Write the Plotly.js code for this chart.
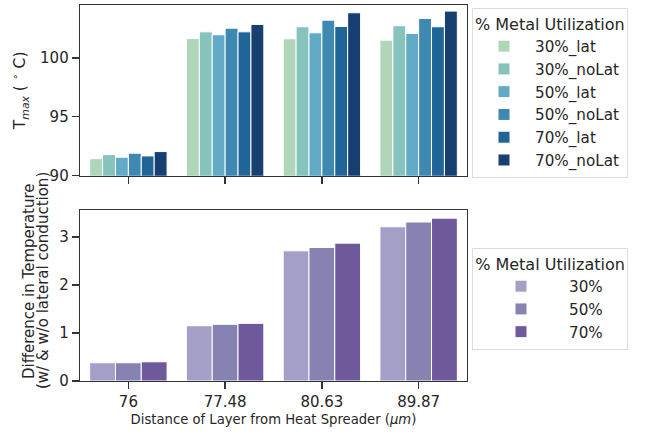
<!DOCTYPE html>
<html>
<head>
<meta charset="utf-8">
<script src="https://cdn.plot.ly/plotly-3.0.1.min.js"></script>
<style>html,body{margin:0;padding:0;background:#fff;}#chart{width:646px;height:433px;}</style>
</head>
<body>
<div id="chart"></div>
<script>
// ---- data ----
const categories = ['76', '77.48', '80.63', '89.87'];

const topNames = ['30%_lat', '30%_noLat', '50%_lat', '50%_noLat', '70%_lat', '70%_noLat'];
const tmax30lat   = [91.45, 101.65, 101.63, 101.51];
const tmax30noLat = [91.79, 102.22, 102.65, 102.74];
const tmax50lat   = [91.57, 101.97, 102.14, 102.08];
const tmax50noLat = [91.91, 102.53, 103.21, 103.36];
const tmax70lat   = [91.68, 102.22, 102.68, 102.65];
const tmax70noLat = [92.05, 102.85, 103.84, 103.98];
const topValues = [tmax30lat, tmax30noLat, tmax50lat, tmax50noLat, tmax70lat, tmax70noLat];
const topColors = ['#afd6b9', '#86c3bc', '#62aac6', '#3e89b2', '#1f6598', '#183f71'];

const botNames = ['30%', '50%', '70%'];
const diff30 = [0.38, 1.15, 2.71, 3.21];
const diff50 = [0.38, 1.18, 2.78, 3.31];
const diff70 = [0.40, 1.20, 2.87, 3.39];
const botValues = [diff30, diff50, diff70];
const botColors = ['#a39fc6', '#8683b2', '#6e5a9a'];

const botYTitle = ['Difference in Temperature', '(w/ & w/o lateral conduction)'];

const FONT = 'DejaVu Sans, sans-serif';
const TXT = '#262626';

const traces = [];
topNames.forEach((n, i) => {
  traces.push({
    type: 'bar', x: categories, y: topValues[i], name: n,
    xaxis: 'x', yaxis: 'y', legend: 'legend',
    marker: {color: topColors[i], line: {color: '#ffffff', width: 1}},
    hoverinfo: 'skip'
  });
});
botNames.forEach((n, i) => {
  traces.push({
    type: 'bar', x: categories, y: botValues[i], name: n,
    xaxis: 'x2', yaxis: 'y2', legend: 'legend2',
    marker: {color: botColors[i], line: {color: '#ffffff', width: 1}},
    hoverinfo: 'skip'
  });
});

const W = 646, H = 433;
const xd = [80 / W, 467 / W];
const axCommon = {
  showline: true, linecolor: '#333333', linewidth: 1.3, mirror: true,
  ticks: 'outside', ticklen: 7, tickwidth: 1.3, tickcolor: '#333333',
  showgrid: false, zeroline: false, automargin: false,
  tickfont: {family: FONT, size: 15, color: TXT}
};

const layout = {
  width: W, height: H,
  margin: {l: 0, r: 0, t: 0, b: 0},
  paper_bgcolor: '#ffffff', plot_bgcolor: '#ffffff',
  font: {family: FONT, color: TXT},
  barmode: 'group', bargap: 0.2, bargroupgap: 0,
  showlegend: true,
  xaxis: Object.assign({}, axCommon, {
    domain: xd, anchor: 'y', type: 'category', range: [-0.5, 3.5],
    showticklabels: false
  }),
  yaxis: Object.assign({}, axCommon, {
    domain: [1 - 175.7 / H, 1 - 5 / H], anchor: 'x', range: [90, 104.5],
    tickvals: [90, 95, 100],
    title: {text: 'T<sub><i>max</i></sub> ( <sup>∘</sup> C)', font: {family: FONT, size: 15.5, color: TXT}, standoff: 10}
  }),
  xaxis2: Object.assign({}, axCommon, {
    domain: xd, anchor: 'y2', type: 'category', range: [-0.5, 3.5],
    title: {text: 'Distance of Layer from Heat Spreader (<i>μm</i>)', font: {family: FONT, size: 13.2, color: TXT}, standoff: 4}
  }),
  yaxis2: Object.assign({}, axCommon, {
    domain: [1 - 381 / H, 1 - 210 / H], anchor: 'x2', range: [0, 3.56],
    tickvals: [0, 1, 2, 3]
  }),
  annotations: botYTitle.map((t, i) => ({
    text: t, xref: 'paper', yref: 'paper',
    x: (29 + 14 * i) / W, y: 1 - 281 / H,
    xanchor: 'center', yanchor: 'middle', textangle: -90, showarrow: false,
    font: {family: FONT, size: 15, color: TXT}
  })),
  legend: {
    x: 472 / W, y: 1 - 8 / H, xanchor: 'left', yanchor: 'top',
    bordercolor: '#dcdcdc', borderwidth: 1, bgcolor: '#ffffff',
    font: {family: FONT, size: 15.2, color: TXT},
    title: {text: '% Metal Utilization', font: {family: FONT, size: 16, color: TXT}, side: 'top'},
    tracegroupgap: 0, itemwidth: 52
  },
  legend2: {
    x: 472 / W, y: 1 - 248 / H, xanchor: 'left', yanchor: 'top',
    bordercolor: '#dcdcdc', borderwidth: 1, bgcolor: '#ffffff',
    font: {family: FONT, size: 15.2, color: TXT},
    title: {text: '% Metal Utilization', font: {family: FONT, size: 16, color: TXT}, side: 'top center'},
    tracegroupgap: 0, itemwidth: 86
  }
};

Plotly.newPlot('chart', traces, layout, {displayModeBar: false, staticPlot: true});
</script>
</body>
</html>
